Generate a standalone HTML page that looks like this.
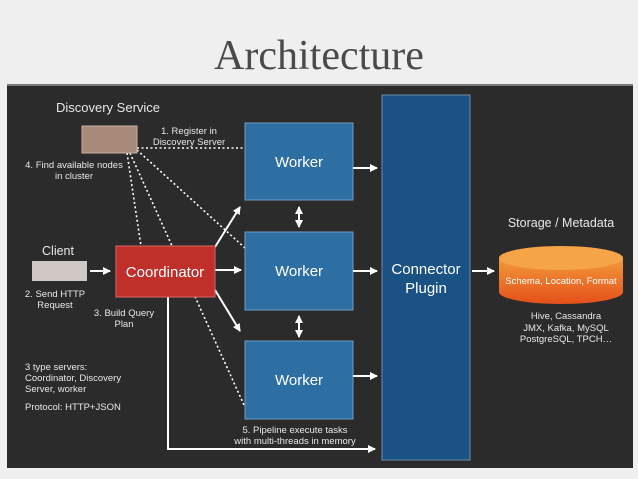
<!DOCTYPE html>
<html><head><meta charset="utf-8"><style>
html,body{margin:0;padding:0;background:#efefef;}
svg{display:block;font-family:"Liberation Sans",sans-serif;}
</style></head><body>
<svg width="638" height="479" viewBox="0 0 638 479" xmlns="http://www.w3.org/2000/svg">
<defs>
<marker id="a" markerWidth="8" markerHeight="8" refX="7" refY="4" orient="auto-start-reverse" markerUnits="userSpaceOnUse"><path d="M0,0 L8,4 L0,8 z" fill="#fff"/></marker>
<linearGradient id="cy" x1="0" y1="0" x2="0" y2="1"><stop offset="0" stop-color="#f39a3a"/><stop offset="1" stop-color="#e4501a"/></linearGradient>
</defs>
<rect width="638" height="479" fill="#efefef"/>
<text x="319" y="69" font-family="Liberation Serif,serif" font-size="42" fill="#4a4a4a" text-anchor="middle">Architecture</text>
<rect x="7" y="85" width="626" height="383" fill="#2b2b2b"/>
<rect x="7" y="84" width="626" height="2" fill="#777"/>
<g stroke="#fff" stroke-width="1.6" stroke-dasharray="2,2.5" fill="none">
<line x1="137" y1="148" x2="245" y2="148"/>
<line x1="127" y1="153" x2="141" y2="246"/>
<line x1="130" y1="153" x2="244" y2="405"/>
<line x1="137" y1="150" x2="245" y2="248"/>
</g>
<rect x="82" y="126" width="55" height="27" fill="#a88a7a" stroke="#c8b0a4"/>
<rect x="32" y="261" width="55" height="20" fill="#d0c8c4"/>
<rect x="245" y="123" width="108" height="77" fill="#2e6fa3" stroke="#6f9fc8"/>
<rect x="245" y="232" width="108" height="78" fill="#2e6fa3" stroke="#6f9fc8"/>
<rect x="245" y="341" width="108" height="78" fill="#2e6fa3" stroke="#6f9fc8"/>
<rect x="382" y="95" width="88" height="365" fill="#1a5283" stroke="#6d8fae"/>
<g stroke="#fff" stroke-width="2" fill="none">
<line x1="90" y1="271" x2="110" y2="271" marker-end="url(#a)"/>
<line x1="215" y1="270" x2="241" y2="270" marker-end="url(#a)"/>
<line x1="215" y1="247" x2="240" y2="207" marker-end="url(#a)"/>
<line x1="215" y1="290" x2="240" y2="331" marker-end="url(#a)"/>
<line x1="353" y1="168" x2="377" y2="168" marker-end="url(#a)"/>
<line x1="353" y1="271" x2="377" y2="271" marker-end="url(#a)"/>
<line x1="353" y1="376" x2="377" y2="376" marker-end="url(#a)"/>
<line x1="472" y1="271" x2="494" y2="271" marker-end="url(#a)"/>
<line x1="299" y1="207" x2="299" y2="227" marker-start="url(#a)" marker-end="url(#a)"/>
<line x1="299" y1="316" x2="299" y2="337" marker-start="url(#a)" marker-end="url(#a)"/>
<polyline points="168,297 168,449 375,449" marker-end="url(#a)"/>
</g>
<rect x="116" y="246" width="99" height="51" fill="#c0302a" stroke="#d66"/>
<path d="M499,258 L499,292 A62,12 0 0 0 623,292 L623,258 Z" fill="url(#cy)"/>
<ellipse cx="561" cy="258" rx="62" ry="12" fill="#f5a447"/>
<g fill="#fff" text-anchor="middle">
<text x="299" y="167" font-size="15">Worker</text>
<text x="299" y="276" font-size="15">Worker</text>
<text x="299" y="385" font-size="15">Worker</text>
<text x="165" y="277" font-size="15">Coordinator</text>
<text x="426" y="274" font-size="15">Connector</text>
<text x="426" y="293" font-size="15">Plugin</text>
<text x="561" y="284" font-size="9.5">Schema, Location, Format</text>
</g>
<g fill="#e8e8e8" text-anchor="middle" font-size="9.5">
<text x="108" y="112" font-size="13">Discovery Service</text>
<text x="58" y="255" font-size="12.5">Client</text>
<text x="561" y="227" font-size="12.5">Storage / Metadata</text>
<text x="189" y="134">1. Register in</text>
<text x="189" y="145">Discovery Server</text>
<text x="74" y="168">4. Find available nodes</text>
<text x="74" y="179">in cluster</text>
<text x="55" y="297">2. Send HTTP</text>
<text x="55" y="308">Request</text>
<text x="124" y="316">3. Build Query</text>
<text x="124" y="327">Plan</text>
<text x="295" y="433">5. Pipeline execute tasks</text>
<text x="295" y="444">with multi-threads in memory</text>
<text x="566" y="319">Hive, Cassandra</text>
<text x="566" y="331">JMX, Kafka, MySQL</text>
<text x="566" y="342">PostgreSQL, TPCH…</text>
</g>
<g fill="#e8e8e8" font-size="9.5">
<text x="25" y="370">3 type servers:</text>
<text x="25" y="381">Coordinator, Discovery</text>
<text x="25" y="392">Server, worker</text>
<text x="25" y="410">Protocol: HTTP+JSON</text>
</g>
</svg>
</body></html>
